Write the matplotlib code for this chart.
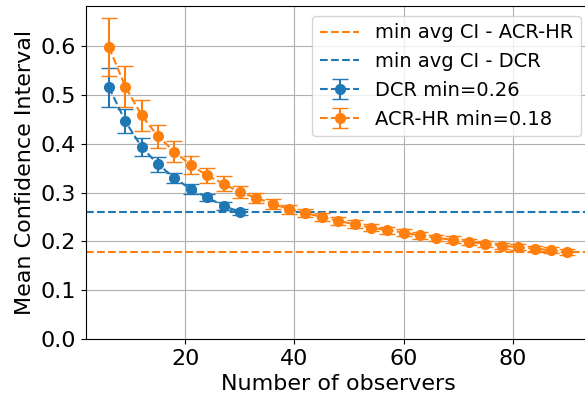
import matplotlib

matplotlib.use("Agg")
import matplotlib.pyplot as plt

# observers sampled every 3 (DCR only goes up to 30)
dcr_x = [6, 9, 12, 15, 18, 21, 24, 27, 30]
dcr_mean = [0.516, 0.446, 0.393, 0.358, 0.330, 0.307, 0.290, 0.273, 0.260]
dcr_err = [0.040, 0.025, 0.019, 0.015, 0.011, 0.010, 0.008, 0.008, 0.006]

acr_x = [6, 9, 12, 15, 18, 21, 24, 27, 30, 33, 36, 39, 42, 45, 48,
         51, 54, 57, 60, 63, 66, 69, 72, 75, 78, 81, 84, 87, 90]
acr_mean = [0.598, 0.517, 0.458, 0.415, 0.384, 0.356, 0.335, 0.318, 0.301,
            0.289, 0.277, 0.266, 0.258, 0.250, 0.242, 0.235, 0.228, 0.223,
            0.218, 0.212, 0.207, 0.203, 0.199, 0.195, 0.191, 0.188, 0.185,
            0.182, 0.178]
acr_err = [0.060, 0.042, 0.032, 0.024, 0.021, 0.018, 0.016, 0.015, 0.013,
           0.011, 0.010, 0.009, 0.009, 0.008, 0.008, 0.008, 0.007, 0.007,
           0.007, 0.007, 0.007, 0.007, 0.006, 0.006, 0.006, 0.006, 0.006,
           0.006, 0.006]

dcr_min = 0.26
acr_min = 0.178

plt.rcParams["font.size"] = 16

fig = plt.figure(figsize=(5.85, 3.96), dpi=100)
# right edge sits just past the canvas, like the cropped original
ax = fig.add_axes([0.147, 0.144, 0.862, 0.841])

ax.axhline(acr_min, color="tab:orange", linestyle="--", label="min avg CI - ACR-HR")
ax.axhline(dcr_min, color="tab:blue", linestyle="--", label="min avg CI - DCR")
ax.errorbar(dcr_x, dcr_mean, yerr=dcr_err, fmt="--o", color="tab:blue",
            capsize=6, markersize=7, label=f"DCR min={dcr_min:.2f}")
ax.errorbar(acr_x, acr_mean, yerr=acr_err, fmt="--o", color="tab:orange",
            capsize=6, markersize=7, label="ACR-HR min=0.18")

ax.set_ylim(bottom=0)
ax.set_xlabel("Number of observers")
ax.set_ylabel("Mean Confidence Interval")
ax.grid(True)
ax.legend(loc="upper right", fontsize=14)

fig.savefig("out.png")
